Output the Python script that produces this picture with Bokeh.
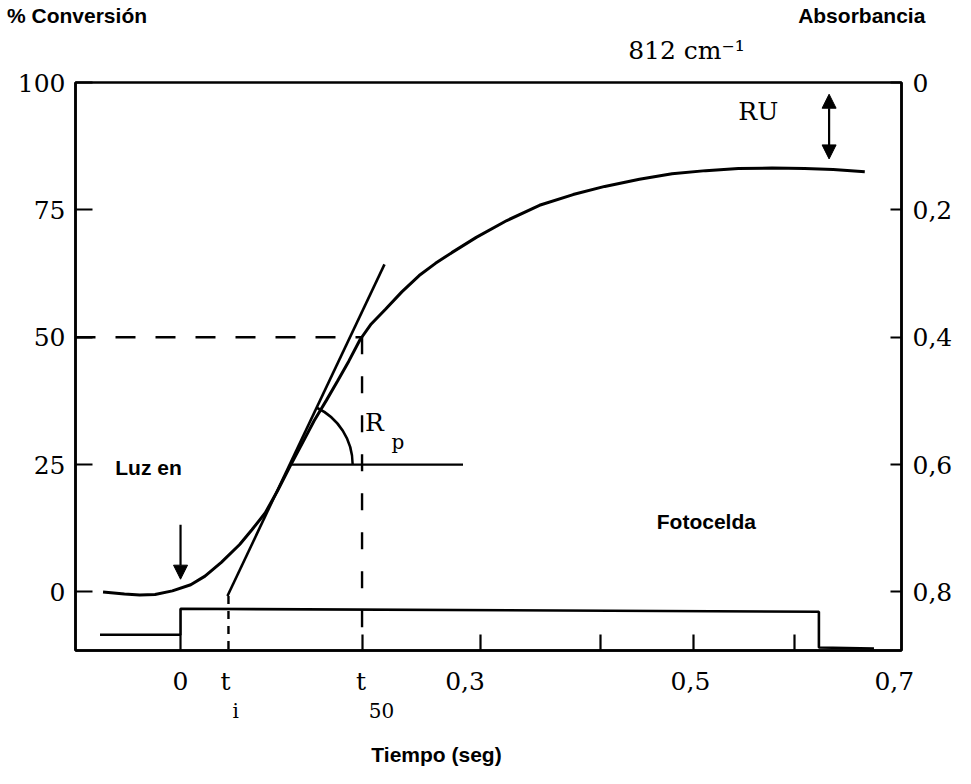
from bokeh.plotting import figure
from bokeh.models import Range1d, LinearAxis, FixedTicker, Label, Arrow, NormalHead
from bokeh.embed import file_html
from bokeh.resources import INLINE

# ---- data ----
time_s = [-0.076, -0.055, -0.040, -0.025, -0.008, 0.010, 0.024, 0.040, 0.058, 0.070,
          0.083, 0.095, 0.107, 0.120, 0.131, 0.143, 0.154, 0.165, 0.176, 0.187,
          0.201, 0.217, 0.234, 0.250, 0.266, 0.290, 0.320, 0.352, 0.385, 0.416,
          0.450, 0.482, 0.515, 0.547, 0.580, 0.612, 0.640, 0.671]
conversion = [0.0, -0.4, -0.6, -0.5, 0.2, 1.4, 3.1, 5.8, 9.3, 12.2,
              15.5, 19.8, 24.5, 29.4, 33.6, 37.6, 41.4, 45.3, 49.5, 52.6,
              55.5, 58.9, 62.1, 64.5, 66.6, 69.6, 72.9, 75.9, 78.0, 79.6,
              81.0, 82.1, 82.7, 83.1, 83.2, 83.1, 82.9, 82.5]

photocell_t = [-0.079, 0.0, 0.0, 0.626, 0.626, 0.680]
photocell_y = [-8.4, -8.4, -3.3, -3.9, -10.9, -11.1]

tangent_t = [0.046, 0.200]
tangent_y = [-0.8, 64.3]

t_i = 0.047
t_50 = 0.178
level_50 = 50
rp_start, rp_end, rp_level = 0.107, 0.277, 25

x_min, x_max = -0.103, 0.707
y_min, y_max = -11.5, 100
abs_bottom, abs_top = 0.892, 0.0

# time axis: label positions (as printed) and tick-mark positions (as drawn)
x_label_pos = [0, 0.044, 0.177, 0.279, 0.5, 0.7]
x_tick_labels = ["0", "t", "t", "0,3", "0,5", "0,7"]
x_tick_marks = [0, 0.178, 0.294, 0.412, 0.503, 0.602]
subscript_pos = [0.054, 0.197]
subscript_labels = ["i", "50"]
conv_ticks = [0, 25, 50, 75, 100]
abs_ticks = [0, 0.2, 0.4, 0.6, 0.8]
abs_tick_labels = ["0", "0,2", "0,4", "0,6", "0,8"]

# titles positioned along the time axis
title_pos = [-0.1015, 0.668]
title_texts = ["% Conversión", "Absorbancia"]
band_pos = [0.500]
band_texts = ["812  cm⁻¹"]
xlabel_pos = [0.251]
xlabel_texts = ["Tiempo (seg)"]

SERIF = "DejaVu Serif"
SANS = "Liberation Sans"

p = figure(width=955, height=768, x_range=Range1d(x_min, x_max),
           y_range=Range1d(y_min, y_max), output_backend="svg",
           toolbar_location=None, min_border_left=75, min_border_right=53,
           min_border_top=81, min_border_bottom=114)
p.grid.visible = False
p.outline_line_color = "black"
p.outline_line_width = 2.5
p.background_fill_color = "white"
p.border_fill_color = "white"

p.extra_y_ranges = {"abs": Range1d(abs_bottom, abs_top)}

def style_axis(ax, tick_in):
    ax.axis_line_color = "black"
    ax.axis_line_width = 2.5
    ax.major_tick_line_color = "black"
    ax.major_tick_line_width = 2.2
    ax.major_tick_in = tick_in
    ax.major_tick_out = 0
    ax.minor_tick_line_color = None
    ax.major_label_text_font = SERIF
    ax.major_label_text_font_size = "25px"
    ax.major_label_text_color = "black"

xa = p.xaxis[0]
xa.ticker = FixedTicker(ticks=x_label_pos, minor_ticks=x_tick_marks)
xa.major_label_overrides = {t: l for t, l in zip(x_label_pos, x_tick_labels)}
style_axis(xa, 0)
xa.major_tick_line_color = None
xa.minor_tick_line_color = "black"
xa.minor_tick_line_width = 2.2
xa.minor_tick_in = 16
xa.minor_tick_out = 0
xa.major_label_standoff = 16

ya = p.yaxis[0]
ya.ticker = FixedTicker(ticks=conv_ticks)
style_axis(ya, 17)
ya.major_label_standoff = 10

ra = LinearAxis(y_range_name="abs", ticker=FixedTicker(ticks=abs_ticks))
ra.major_label_overrides = {t: l for t, l in zip(abs_ticks, abs_tick_labels)}
style_axis(ra, 11)
ra.major_label_standoff = 11
p.add_layout(ra, "right")

def text_axis(place, ticks, labels, font, size, standoff, bold=False):
    ax = LinearAxis(ticker=FixedTicker(ticks=ticks))
    ax.major_label_overrides = {t: l for t, l in zip(ticks, labels)}
    ax.axis_line_color = None
    ax.major_tick_line_color = None
    ax.minor_tick_line_color = None
    ax.major_tick_in = 0
    ax.major_tick_out = 0
    ax.major_label_standoff = standoff
    ax.major_label_text_font = font
    ax.major_label_text_font_size = size
    ax.major_label_text_color = "black"
    ax.major_label_text_font_style = "bold" if bold else "normal"
    p.add_layout(ax, place)

# bottom: subscripts, then the time label
text_axis("below", subscript_pos, subscript_labels, SERIF, "20px", 0)
text_axis("below", xlabel_pos, xlabel_texts, SANS, "21px", 17, bold=True)
# top: wavenumber, then the two axis titles
text_axis("above", band_pos, band_texts, SERIF, "25px", 18)
text_axis("above", title_pos, title_texts, SANS, "21px", 6, bold=True)

# main conversion curve
p.line(time_s, conversion, line_color="black", line_width=3)
# tangent line
p.line(tangent_t, tangent_y, line_color="black", line_width=2.6)
# horizontal reference for Rp
p.line([rp_start, rp_end], [rp_level, rp_level], line_color="black", line_width=2.2)
# angle arc
p.arc(x=[rp_start], y=[rp_level], radius=63, radius_units="screen",
      start_angle=0, end_angle=1.133, line_color="black", line_width=2.5)
# dashed guides
p.line([x_min, t_50], [level_50, level_50], line_color="black", line_width=2.4,
       line_dash="20 20")
p.line([t_50, t_50], [level_50, y_min], line_color="black", line_width=2.4,
       line_dash="17 22")
p.line([t_i, t_i], [tangent_y[0], y_min], line_color="black", line_width=2.4,
       line_dash="8 7")
# photocell signal
p.line(photocell_t, photocell_y, line_color="black", line_width=2.6)

# arrows
p.add_layout(Arrow(end=NormalHead(size=14, fill_color="black", line_color="black"),
                   x_start=0.0, y_start=13.2, x_end=0.0, y_end=2.5,
                   line_color="black", line_width=2.2))
p.add_layout(Arrow(start=NormalHead(size=14, fill_color="black", line_color="black"),
                   end=NormalHead(size=14, fill_color="black", line_color="black"),
                   x_start=0.636, y_start=97.7, x_end=0.636, y_end=85.0,
                   line_color="black", line_width=2.2))

def add_label(txt, x, y, font, size, bold=False):
    p.add_layout(Label(x=x, y=y, text=txt, text_font=font, text_font_size=size,
                       text_align="left", text_baseline="middle", text_color="black",
                       text_font_style="bold" if bold else "normal"))

add_label("RU", 0.547, 94.4, SERIF, "25px")
add_label("Luz en", -0.064, 24.5, SANS, "21px", bold=True)
add_label("Fotocelda", 0.467, 13.8, SANS, "21px", bold=True)
add_label("R", 0.181, 33.2, SERIF, "25px")
add_label("p", 0.207, 29.5, SERIF, "20px")

open("out.html", "w").write(file_html(p, INLINE))
